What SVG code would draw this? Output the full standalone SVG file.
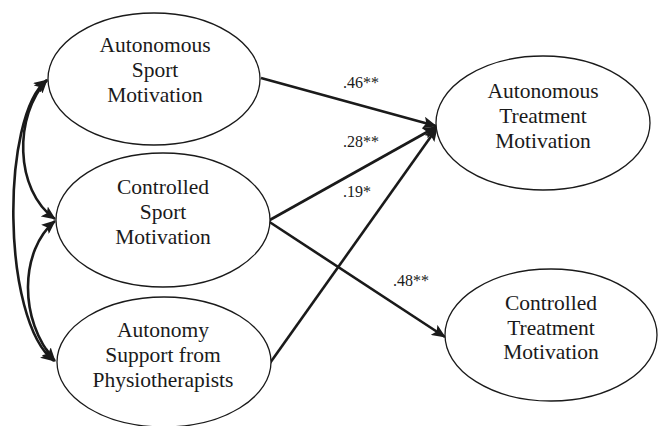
<svg xmlns="http://www.w3.org/2000/svg" width="660" height="426" viewBox="0 0 660 426">
<style>
.node ellipse{fill:#fff;stroke:#1a1a1a;stroke-width:1.3}
.node text{font-family:'Liberation Serif','DejaVu Serif','Times New Roman',Times,serif;font-size:21.5px;fill:#1a1a1a;text-anchor:middle}
.conn path,.conn line{fill:none;stroke:#1a1a1a;stroke-width:2.6}
.lbl{font-family:'Liberation Serif','DejaVu Serif','Times New Roman',Times,serif;font-size:16px;fill:#1a1a1a}
</style>
<defs>
<marker id="ah" markerUnits="userSpaceOnUse" markerWidth="14" markerHeight="12" refX="13" refY="6" orient="auto-start-reverse" viewBox="0 0 14 12">
<path d="M0,0 L14,6 L0,12 L3,6 Z" fill="#1a1a1a"/>
</marker>
</defs>
<rect width="660" height="426" fill="#fff"/>
<g class="conn" id="connectors">
<line x1="261" y1="78" x2="436" y2="126" marker-end="url(#ah)"/>
<line x1="268" y1="221" x2="436" y2="127" marker-end="url(#ah)"/>
<line x1="270" y1="363" x2="437" y2="128" marker-end="url(#ah)"/>
<line x1="268" y1="221" x2="445" y2="337" marker-end="url(#ah)"/>
<path d="M47,80 C1,115 1,320 54,361" marker-start="url(#ah)" marker-end="url(#ah)"/>
<path d="M47,80 C14,115 14,190 55,219" marker-start="url(#ah)" marker-end="url(#ah)"/>
<path d="M55,221 C20,250 18,320 55,361" marker-start="url(#ah)" marker-end="url(#ah)"/>
</g>
<g id="labels" font-family="Liberation Serif, serif">
<text class="lbl" x="343" y="88">.46**</text>
<text class="lbl" x="343" y="147">.28**</text>
<text class="lbl" x="343" y="197">.19*</text>
<text class="lbl" x="393" y="286">.48**</text>
</g>
<g class="node" id="autonomous-sport">
<ellipse cx="154" cy="79" rx="106" ry="66"/>
<text x="155" y="52">Autonomous</text>
<text x="155" y="77">Sport</text>
<text x="155" y="102">Motivation</text>
</g>
<g class="node" id="controlled-sport">
<ellipse cx="163" cy="220" rx="107" ry="67"/>
<text x="163" y="194">Controlled</text>
<text x="163" y="219">Sport</text>
<text x="163" y="244">Motivation</text>
</g>
<g class="node" id="autonomy-support">
<ellipse cx="164" cy="362" rx="107" ry="65"/>
<text x="163" y="337">Autonomy</text>
<text x="163" y="362">Support from</text>
<text x="163" y="387">Physiotherapists</text>
</g>
<g class="node" id="autonomous-treatment">
<ellipse cx="543" cy="123" rx="107" ry="67"/>
<text x="543" y="98">Autonomous</text>
<text x="543" y="123">Treatment</text>
<text x="543" y="148">Motivation</text>
</g>
<g class="node" id="controlled-treatment">
<ellipse cx="551" cy="335" rx="106" ry="66"/>
<text x="551" y="310">Controlled</text>
<text x="551" y="335">Treatment</text>
<text x="551" y="359">Motivation</text>
</g>
</svg>
